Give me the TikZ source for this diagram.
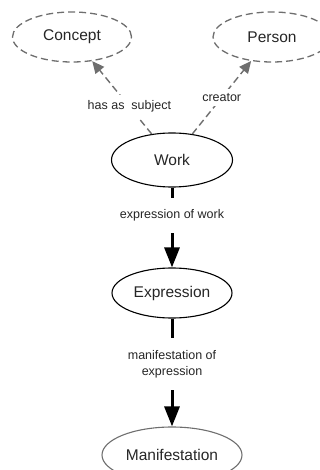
\documentclass[tikz,border=0pt]{standalone}
\usepackage{fontspec}
\setmainfont{Liberation Sans}
\usetikzlibrary{shapes.geometric,arrows.meta}
\definecolor{linkgray}{HTML}{6E6E6E}
\begin{document}
\begin{tikzpicture}[x=1pt,y=-1pt,
  entity/.style={draw,ellipse,inner sep=0pt,line width=1.1pt,font=\fontsize{15.5}{18}\selectfont,text=black!85},
  ghost/.style={entity,draw=linkgray,dashed,dash pattern=on 7pt off 4pt,line width=1.3pt},
  relation/.style={line width=3pt,-{Triangle[length=20pt,width=15pt]}},
  weak/.style={draw=linkgray,line width=1.4pt,dash pattern=on 7pt off 4pt,-{Triangle[length=12pt,width=11pt]}},
  lbl/.style={fill=white,font=\fontsize{12.5}{16}\selectfont,text=black!85,align=center}]
\useasboundingbox (0,0) rectangle (320,470);
\clip (0,0) rectangle (320,470);
% Draw entities
\node[ghost,minimum width=119pt,minimum height=50pt] (concept) at (72,37) {Concept};
\node[ghost,minimum width=118pt,minimum height=50pt] (person) at (272,37) {Person};
\node[entity,minimum width=121pt,minimum height=54pt] (work) at (172,160) {Work};
\node[entity,minimum width=120pt,minimum height=50pt] (expression) at (172,293) {Expression};
\node[entity,draw=linkgray,minimum width=140pt,minimum height=56pt] (manifestation) at (172,455) {Manifestation};
% Draw dashed links
\draw[weak] (work.128) -- node[lbl,pos=0.375,inner sep=6pt] {has as\ \ subject} (concept.-50);
\draw[weak] (work.52) -- node[lbl,pos=0.5,inner sep=4pt] {creator} (person.229);
% Draw main links
\draw[relation] (work) -- node[lbl,pos=0.35,inner xsep=2pt,inner ysep=11.5pt] {expression of work} (expression);
\draw[relation] (expression) -- node[lbl,pos=0.42,inner xsep=2pt,inner ysep=12pt] {manifestation of\\expression} (manifestation);
\end{tikzpicture}
\end{document}
